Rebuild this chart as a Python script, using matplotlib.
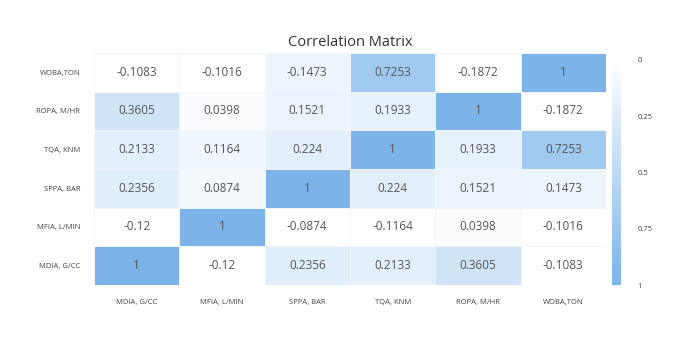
import numpy as np
import matplotlib
matplotlib.use("Agg")
import matplotlib.pyplot as plt
from matplotlib.colors import LinearSegmentedColormap

plt.rcParams['font.family'] = ['Open Sans', 'DejaVu Sans']

labels = ["MDIA, G/CC", "MFIA, L/MIN", "SPPA, BAR", "TQA, KNM", "ROPA, M/HR", "WOBA,TON"]

# rows from bottom (MDIA) to top (WOBA)
z = np.array([
    [1, -0.12, 0.2356, 0.2133, 0.3605, -0.1083],
    [-0.12, 1, -0.0874, -0.1164, 0.0398, -0.1016],
    [0.2356, 0.0874, 1, 0.224, 0.1521, 0.1473],
    [0.2133, 0.1164, 0.224, 1, 0.1933, 0.7253],
    [0.3605, 0.0398, 0.1521, 0.1933, 1, -0.1872],
    [-0.1083, -0.1016, 0.1473, 0.7253, -0.1872, 1],
])
text = [
    ["1", "-0.12", "0.2356", "0.2133", "0.3605", "-0.1083"],
    ["-0.12", "1", "-0.0874", "-0.1164", "0.0398", "-0.1016"],
    ["0.2356", "0.0874", "1", "0.224", "0.1521", "0.1473"],
    ["0.2133", "0.1164", "0.224", "1", "0.1933", "0.7253"],
    ["0.3605", "0.0398", "0.1521", "0.1933", "1", "-0.1872"],
    ["-0.1083", "-0.1016", "-0.1473", "0.7253", "-0.1872", "1"],
]
cbar_ticks = [0, 0.25, 0.5, 0.75, 1]

cmap = LinearSegmentedColormap.from_list("wb", ["#ffffff", "#7cb4ea"])

fig = plt.figure(figsize=(6.84, 3.37), dpi=100)
ax = fig.add_axes([94 / 684, 52 / 337, 512 / 684, 232 / 337])
n = len(labels)
mesh = ax.pcolormesh(np.arange(n + 1), np.arange(n + 1), z, cmap=cmap, vmin=0, vmax=1,
                     edgecolor="#f1f5fa", linewidth=0.5)
for i in range(n):
    for j in range(n):
        ax.text(j + 0.5, i + 0.5, text[i][j], ha="center", va="center",
                fontsize=8.5, color="#555555")

ax.set_xlim(0, n)
ax.set_ylim(0, n)
ax.set_xticks(np.arange(n) + 0.5)
ax.set_yticks(np.arange(n) + 0.5)
ax.set_xticklabels(labels, fontsize=5.5, color="#444444")
ax.set_yticklabels(labels, fontsize=5.5, color="#444444")
ax.tick_params(length=0, pad=10)
for s in ax.spines.values():
    s.set_visible(False)
ax.set_title("Correlation Matrix", fontsize=10.5, color="#333333", pad=5)

cax = fig.add_axes([612 / 684, 52 / 337, 9 / 684, 225 / 337])
cb = fig.colorbar(mesh, cax=cax, ticks=cbar_ticks)
cb.outline.set_visible(False)
cax.invert_yaxis()
cax.set_yticklabels(["0", "0.25", "0.5", "0.75", "1"])
cax.tick_params(length=0, labelsize=5.5, labelcolor="#444444", pad=12)

fig.savefig("out.png", dpi=100)
